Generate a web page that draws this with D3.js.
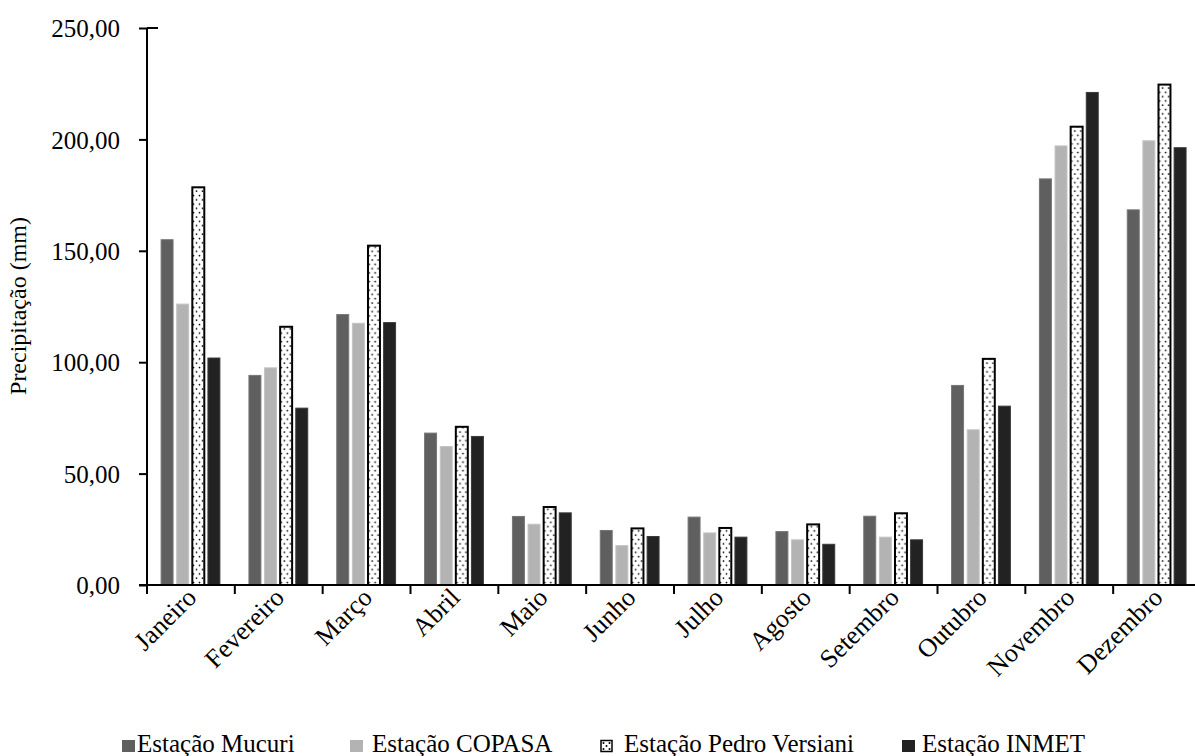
<!DOCTYPE html>
<html><head><meta charset="utf-8">
<script src="https://cdn.jsdelivr.net/npm/d3@7/dist/d3.min.js"></script>
<style>body{margin:0;background:#fff;} svg{display:block;} svg text{font-family:"Liberation Serif","Times New Roman",serif !important;fill:#000;}</style>
</head><body>
<svg id="chart" width="1195" height="756" font-family="Liberation Serif"></svg>
<script>
const months = ["Janeiro","Fevereiro","Março","Abril","Maio","Junho","Julho","Agosto","Setembro","Outubro","Novembro","Dezembro"];
const seriesNames = ["Estação Mucuri","Estação COPASA","Estação Pedro Versiani","Estação INMET"];
const mucuri   = [155.2, 94.3, 121.6, 68.4, 31.0, 24.7, 30.7, 24.2, 31.1, 89.8, 182.5, 168.6];
const copasa   = [126.3, 97.7, 117.7, 62.4, 27.5, 17.9, 23.6, 20.5, 21.7, 69.9, 197.3, 199.6];
const pedro    = [178.5, 115.9, 152.3, 71.0, 35.0, 25.4, 25.6, 27.2, 32.2, 101.5, 205.7, 224.6];
const inmet    = [102.1, 79.6, 118.0, 66.9, 32.6, 22.0, 21.7, 18.5, 20.5, 80.5, 221.3, 196.5];
const yTicks = [0, 50, 100, 150, 200, 250];
const yLabel = "Precipitação (mm)";

const seriesValues = [mucuri, copasa, pedro, inmet];
const fills = ["#5f5f5f", "#b3b3b3", "url(#dots)", "#222222"];
const strokes = ["#767676", "#c4c4c4", "#000", "#3a3a3a"];

const svg = d3.select("#chart");
const defs = svg.append("defs");
const pat = defs.append("pattern").attr("id","dots").attr("patternUnits","userSpaceOnUse")
  .attr("width",6).attr("height",8.6);
pat.append("rect").attr("width",6).attr("height",8.6).attr("fill","#fff");
pat.append("circle").attr("cx",1.5).attr("cy",2).attr("r",0.9).attr("fill","#000");
pat.append("circle").attr("cx",4.5).attr("cy",6.3).attr("r",0.9).attr("fill","#000");

const x0 = d3.scaleBand().domain(months).range([147, 1201]).paddingInner(0).paddingOuter(0);
const x1 = d3.scaleBand().domain(d3.range(4)).range([13.6, 73.4]).paddingInner(0.17).paddingOuter(0);
const y = d3.scaleLinear().domain([0, 250]).range([585, 28]);

const fmt = v => d3.format(".2f")(v).replace(".", ",");

// bars
const groups = svg.append("g").selectAll("g").data(months).join("g")
  .attr("transform", d => `translate(${x0(d)},0)`);
groups.selectAll("rect").data((m, i) => seriesValues.map((s, k) => ({k, v: s[i]})))
  .join("rect")
  .attr("x", d => x1(d.k) + 0.5)
  .attr("width", d => x1.bandwidth() - 1)
  .attr("y", d => y(d.v) + (d.k === 2 ? 0 : 0.5))
  .attr("height", d => y(0) - y(d.v) - (d.k === 2 ? 0 : 0.5))
  .attr("fill", d => fills[d.k])
  .attr("stroke", d => strokes[d.k])
  .attr("stroke-width", d => d.k === 2 ? 2 : 1);

// y axis
const yAxis = svg.append("g").attr("transform","translate(147,0)")
  .call(d3.axisLeft(y).tickValues(yTicks).tickFormat(fmt).tickSize(8).tickPadding(19));
yAxis.attr("font-family", null);
yAxis.select(".domain").attr("stroke","#000").attr("stroke-width",2).attr("d","M0,28V585");
yAxis.selectAll(".tick line").attr("stroke","#000").attr("stroke-width",2);
yAxis.selectAll(".tick text").attr("font-size","25px").attr("dy","0.35em");
yAxis.append("line").attr("x1",0).attr("x2",11).attr("y1",y(250)).attr("y2",y(250))
  .attr("stroke","#000").attr("stroke-width",2);

// x axis
const xAxis = svg.append("g").attr("transform","translate(0,585)")
  .call(d3.axisBottom(x0).tickValues([]).tickSizeOuter(0));
xAxis.attr("font-family", null);
xAxis.select(".domain").attr("stroke","#000").attr("stroke-width",2).attr("d","M139,0H1201");
xAxis.selectAll(".bt").data(d3.range(13)).join("line")
  .attr("x1", i => 147 + i * x0.step()).attr("x2", i => 147 + i * x0.step())
  .attr("y1", 0).attr("y2", 9).attr("stroke","#000").attr("stroke-width",2);
xAxis.selectAll(".lbl").data(months).join("text")
  .attr("font-size","26px")
  .attr("text-anchor","end")
  .attr("transform", d => `translate(${x0(d) + x0.bandwidth()/2 + 7},${14}) rotate(-45)`)
  .text(d => d);

// y label
svg.append("text").attr("transform","translate(26,306) rotate(-90)")
  .attr("text-anchor","middle").attr("font-size","24px").text(yLabel);

// legend
const legX = [122, 350, 600, 902];
const textX = [15, 22, 24, 20];
const leg = svg.append("g").selectAll("g").data(seriesNames).join("g")
  .attr("transform", (d, i) => `translate(${legX[i]},740)`);
leg.append("rect").attr("width", (d,i)=> i===2 ? 11 : 13).attr("height", (d,i)=> i===2 ? 11 : 12)
  .attr("x", (d,i)=> i===2 ? 1 : 0).attr("y", (d,i)=> i===2 ? 0.5 : 0)
  .attr("fill", (d, i) => i === 2 ? "#fff" : fills[i])
  .attr("stroke", (d, i) => i === 2 ? "#000" : "none").attr("stroke-width", 1.5);
leg.filter((d,i)=>i===2).selectAll("circle").data([[3.5,3],[9.5,3],[6.5,6],[3.5,9],[9.5,9]]).join("circle")
  .attr("cx", p=>p[0]).attr("cy", p=>p[1]).attr("r",1).attr("fill","#000");
leg.append("text").attr("x", (d,i)=> textX[i]).attr("y", 12)
  .attr("font-size","25px").text(d => d);
</script>
</body></html>
